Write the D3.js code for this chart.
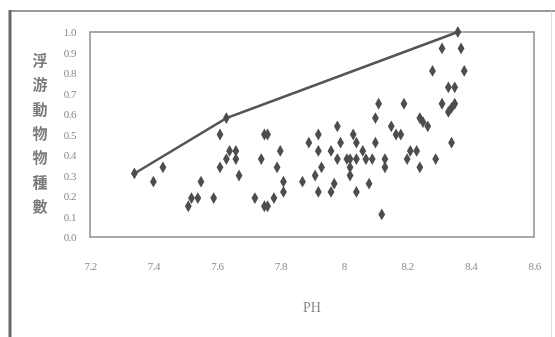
<!DOCTYPE html>
<html><head><meta charset="utf-8">
<script src="https://cdn.jsdelivr.net/npm/d3@7/dist/d3.min.js"></script>
<style>html,body{margin:0;padding:0;background:#fff;}svg{display:block;}</style>
</head><body>
<script>
const xTicks = [7.2, 7.4, 7.6, 7.8, 8.0, 8.2, 8.4, 8.6];
const xTickLabels = ["7.2", "7.4", "7.6", "7.8", "8", "8.2", "8.4", "8.6"];
const yTicks = [0, 0.1, 0.2, 0.3, 0.4, 0.5, 0.6, 0.7, 0.8, 0.9, 1.0];
const yTickLabels = ["0.0","0.1","0.2","0.3","0.4","0.5","0.6","0.7","0.8","0.9","1.0"];
const yTitle = "浮游動物物種數";
const xTitle = "PH";

// upper envelope line
const lineX = [7.34, 7.63, 8.36];
const lineY = [0.31, 0.58, 1.00];

// scatter points
const ptX = [7.40,7.43,7.51,7.52,7.54,7.55,7.59,7.61,7.61,7.63,7.64,7.66,7.66,7.67,
  7.72,7.74,7.75,7.76,7.75,7.76,7.78,7.79,7.80,7.81,7.81,7.87,7.89,7.91,7.92,7.92,7.93,7.92,
  7.96,7.96,7.97,7.98,7.99,7.98,8.01,8.02,8.04,8.02,8.02,8.03,8.04,8.04,8.06,8.07,8.09,8.08,
  8.10,8.10,8.11,8.13,8.13,8.12,8.15,8.165,8.18,8.19,8.21,8.20,8.23,8.24,8.24,8.25,8.265,
  8.29,8.28,8.31,8.31,8.33,8.35,8.33,8.34,8.35,8.34,8.37,8.38];
const ptY = [0.27,0.34,0.15,0.19,0.19,0.27,0.19,0.50,0.34,0.38,0.42,0.42,0.38,0.30,
  0.19,0.38,0.50,0.50,0.15,0.15,0.19,0.34,0.42,0.27,0.22,0.27,0.46,0.30,0.50,0.42,0.34,0.22,
  0.42,0.22,0.26,0.54,0.46,0.38,0.38,0.38,0.38,0.34,0.30,0.50,0.46,0.22,0.42,0.38,0.38,0.26,
  0.58,0.46,0.65,0.38,0.34,0.11,0.54,0.50,0.50,0.65,0.42,0.38,0.42,0.34,0.58,0.56,0.54,
  0.38,0.81,0.92,0.65,0.73,0.73,0.61,0.63,0.65,0.46,0.92,0.81];

const W = 555, H = 337;
const svg = d3.select("body").append("svg").attr("width", W).attr("height", H);
const defs = svg.append("defs");
defs.append("filter").attr("id", "soft").append("feGaussianBlur").attr("stdDeviation", 0.45);
const root = svg.append("g").attr("filter", "url(#soft)");

// outer frame
root.append("line").attr("x1", 10).attr("y1", 11).attr("x2", W).attr("y2", 11)
  .attr("stroke", "#9a9a9a").attr("stroke-width", 2);
root.append("line").attr("x1", 10).attr("y1", 10).attr("x2", 10).attr("y2", H)
  .attr("stroke", "#6a6a6a").attr("stroke-width", 3);
root.append("line").attr("x1", 551.5).attr("y1", 11).attr("x2", 551.5).attr("y2", H)
  .attr("stroke", "#dddddd").attr("stroke-width", 1);

const x = d3.scaleLinear().domain([7.2, 8.6]).range([90, 534]);
const y = d3.scaleLinear().domain([0, 1]).range([237, 32]);

// plot area border
root.append("rect").attr("x", x(7.2)).attr("y", y(1)).attr("width", x(8.6) - x(7.2))
  .attr("height", y(0) - y(1)).attr("fill", "none").attr("stroke", "#8c8c8c").attr("stroke-width", 1.5);

const font = "'Liberation Serif', 'DejaVu Serif', serif";

// y axis labels
const yAxis = d3.axisLeft(y).tickValues(yTicks).tickSize(0).tickPadding(0)
  .tickFormat((d, i) => yTickLabels[i]);
const gy = root.append("g").attr("transform", "translate(76,0)").call(yAxis);
gy.select(".domain").remove();
gy.selectAll(".tick text").attr("font-family", font).attr("font-size", 11).attr("fill", "#8a8a8a")
  .style("letter-spacing", "-0.5px");

// x axis labels
const xAxis = d3.axisBottom(x).tickValues(xTicks).tickSize(0).tickPadding(0)
  .tickFormat((d, i) => xTickLabels[i]);
const gx = root.append("g").attr("transform", "translate(0,262)").call(xAxis);
gx.select(".domain").remove();
gx.selectAll("text").attr("font-family", font).attr("font-size", 11).attr("fill", "#8a8a8a")
  .style("letter-spacing", "-0.5px");

// titles
root.append("text").attr("x", 312).attr("y", 312).attr("text-anchor", "middle")
  .attr("font-family", font).attr("font-size", 14).attr("fill", "#8a8a8a").text(xTitle);
const chars = Array.from(yTitle);
root.append("g").selectAll("text").data(chars).join("text")
  .attr("x", 40).attr("y", (d, i) => 66 + i * 24.3).attr("text-anchor", "middle")
  .attr("font-family", "'Noto Sans CJK TC', 'Noto Sans CJK SC', sans-serif")
  .attr("font-weight", "bold")
  .attr("font-size", 15).attr("fill", "#7a7a7a").text(d => d);

// line
const lineData = lineX.map((v, i) => [v, lineY[i]]);
root.append("path").datum(lineData)
  .attr("d", d3.line().x(d => x(d[0])).y(d => y(d[1])))
  .attr("fill", "none").attr("stroke", "#555").attr("stroke-width", 2.5);

const diamond = d3.symbol().type(d3.symbolDiamond).size(40);
root.append("g").selectAll("path").data(lineData).join("path")
  .attr("transform", d => `translate(${x(d[0])},${y(d[1])})`)
  .attr("d", diamond).attr("fill", "#4d4d4d");

// scatter
const pts = ptX.map((v, i) => [v, ptY[i]]);
root.append("g").selectAll("path").data(pts).join("path")
  .attr("transform", d => `translate(${x(d[0])},${y(d[1])})`)
  .attr("d", diamond).attr("fill", "#4d4d4d");
</script>
</body></html>
